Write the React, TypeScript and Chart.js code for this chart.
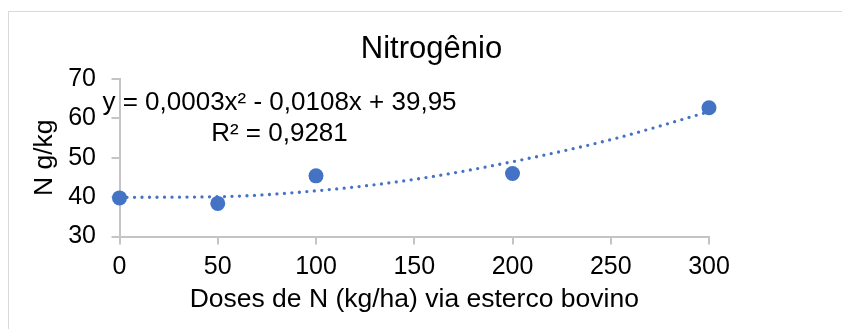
import React, { useEffect, useRef } from "react";
import { Chart, registerables } from "chart.js";

Chart.register(...registerables);

const chartTitle = "Nitrogênio";
const xAxisTitle = "Doses de N (kg/ha) via esterco bovino";
const yAxisTitle = "N g/kg";
const doses = [0, 50, 100, 200, 300];
const nitrogen = [39.8, 38.4, 45.4, 46.0, 62.7];
const trendDoses = [0, 50, 100, 150, 200, 250, 300];
const trendValues = [39.95, 40.1, 41.6, 44.5, 49.0, 54.6, 61.7];
const equationLine1 = "y = 0,0003x² - 0,0108x + 39,95";
const equationLine2 = "R² = 0,9281";

const FONT = "'Liberation Sans', Arial, sans-serif";
const BLUE = "#4472C4";
const AXIS = "#c4c4c4";

const textPlugin = {
  id: "textLabels",
  afterDatasetsDraw(chart: any) {
    const { ctx, chartArea, width } = chart;
    ctx.save();
    ctx.fillStyle = "#000";
    ctx.textAlign = "center";
    ctx.textBaseline = "middle";
    ctx.font = `31px ${FONT}`;
    ctx.fillText(chartTitle, width / 2, chartArea.top - 30);
    ctx.font = `26px ${FONT}`;
    const cx = chartArea.left + 160;
    ctx.fillText(equationLine1, cx, chartArea.top + 24);
    ctx.fillText(equationLine2, cx, chartArea.top + 55);
    ctx.restore();
  },
};

export default function App() {
  const ref = useRef<HTMLCanvasElement | null>(null);

  useEffect(() => {
    if (!ref.current) return;
    const chart = new Chart(ref.current, {
      type: "scatter",
      data: {
        datasets: [
          {
            label: "N",
            data: doses.map((x, i) => ({ x, y: nitrogen[i] })),
            backgroundColor: BLUE,
            borderColor: BLUE,
            pointRadius: 7.5,
            pointBorderWidth: 0,
            showLine: false,
            clip: false,
          },
          {
            label: "Trend",
            type: "line",
            data: trendDoses.map((x, i) => ({ x, y: trendValues[i] })),
            borderColor: BLUE,
            borderWidth: 3.3,
            borderDash: [0, 7.5],
            borderCapStyle: "round",
            cubicInterpolationMode: "monotone",
            pointRadius: 0,
            fill: false,
            clip: false,
          } as any,
        ],
      },
      options: {
        animation: false,
        responsive: false,
        maintainAspectRatio: false,
        layout: { padding: { left: 0, right: 145, top: 67, bottom: 0 } },
        plugins: {
          legend: { display: false },
          tooltip: { enabled: false },
          title: { display: false },
        },
        scales: {
          x: {
            type: "linear",
            min: 0,
            max: 300,
            ticks: {
              stepSize: 50,
              color: "#000",
              font: { family: FONT, size: 25 },
              padding: 8,
              maxRotation: 0,
            },
            grid: {
              drawOnChartArea: false,
              drawTicks: true,
              tickLength: 8,
              color: AXIS,
              lineWidth: 2,
            },
            border: { display: true, color: AXIS, width: 2 },
            title: {
              display: true,
              text: xAxisTitle,
              color: "#000",
              font: { family: FONT, size: 26.5 },
              padding: { top: 0, bottom: 13.1 },
            },
            afterFit: (scale: any) => {
              scale.height = 92.5;
            },
          },
          y: {
            type: "linear",
            min: 30,
            max: 70,
            ticks: {
              stepSize: 10,
              color: "#000",
              font: { family: FONT, size: 25 },
              padding: 15.5,
            },
            grid: {
              drawOnChartArea: false,
              drawTicks: true,
              tickLength: 8,
              color: AXIS,
              lineWidth: 2,
            },
            border: { display: true, color: AXIS, width: 2 },
            title: {
              display: true,
              text: yAxisTitle,
              color: "#000",
              font: { family: FONT, size: 26.5 },
              padding: { top: 19.6, bottom: 0 },
            },
            afterFit: (scale: any) => {
              scale.width = 110.5;
            },
          },
        },
      },
      plugins: [textPlugin],
    } as any);
    return () => chart.destroy();
  }, []);

  return (
    <div
      style={{
        position: "fixed",
        left: 0,
        top: 0,
        width: 842,
        height: 329,
        overflow: "hidden",
        background: "#fff",
      }}
    >
      <div
        style={{
          position: "absolute",
          left: 8,
          top: 11,
          width: 845,
          height: 330,
          border: "1px solid #d9d9d9",
        }}
      >
        <canvas ref={ref} width={845} height={317} style={{ display: "block", width: 845, height: 317 }} />
      </div>
    </div>
  );
}
